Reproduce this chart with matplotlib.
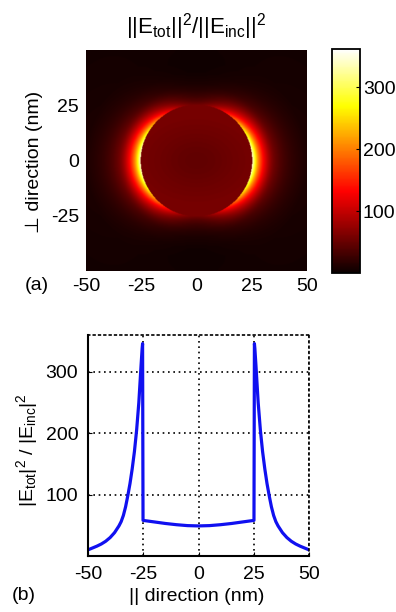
import numpy as np
import matplotlib
matplotlib.use("Agg")
import matplotlib.pyplot as plt

plt.rcParams['font.family'] = ['Liberation Sans', 'DejaVu Sans']
plt.rcParams['mathtext.fontset'] = 'custom'
plt.rcParams['mathtext.rm'] = 'Liberation Sans'
plt.rcParams['mathtext.it'] = 'Liberation Sans:italic'
plt.rcParams['axes.unicode_minus'] = False
plt.rcParams['font.size'] = 14

# (b) cut along the parallel direction
x_line = [-50, -48, -46, -44, -42, -40, -38, -36, -35, -34, -33, -32, -31, -30,
          -29, -28, -27, -26.5, -26, -25.5, -25.3,
          -25.1, -20, -15, -10, -5, 0, 5, 10, 15, 20, 25.1,
          25.3, 25.5, 26, 26.5, 27, 28, 29, 30, 31, 32, 33, 34, 35, 36,
          38, 40, 42, 44, 46, 48, 50]
y_line = [10, 13, 16, 19.5, 24, 30, 38, 49, 56, 66, 80, 98, 118, 142,
          170, 205, 250, 280, 310, 338, 346,
          58, 55.5, 53, 51, 49.5, 49, 49.5, 51, 53, 55.5, 58,
          346, 338, 310, 280, 250, 205, 170, 142, 118, 98, 80, 66, 56, 49,
          38, 30, 24, 19.5, 16, 13, 10]

# radial profiles used to build the (a) map
par_r = [25.3, 25.5, 26, 26.5, 27, 28, 29, 30, 31, 32, 33, 34, 35, 36,
         38, 40, 42, 44, 46, 48, 50, 71]
par_v = [346, 338, 310, 280, 250, 205, 170, 142, 118, 98, 80, 66, 56, 49,
         38, 30, 24, 19.5, 16, 13, 10, 5]
perp_r = [25.3, 27, 29, 32, 35, 40, 45, 50, 71]
perp_v = [55, 40, 28, 16, 9, 4, 3, 4, 5]
in_r = [0, 5, 10, 15, 20, 25.3]
in_v = [47, 48, 50, 53, 55.5, 58]
radius = 25.3

xticks = [-50, -25, 0, 25, 50]
yticks_a = [-25, 0, 25]
yticks_b = [100, 200, 300]
cticks = [100, 200, 300]

g = np.linspace(-50, 50, 401)
X, Y = np.meshgrid(g, g)
R = np.hypot(X, Y)
c2 = np.where(R > 0, X**2 / np.maximum(R, 1e-9)**2, 1.0)
outside = np.interp(R, par_r, par_v) * c2 + np.interp(R, perp_r, perp_v) * (1 - c2)
inside = np.interp(np.hypot(X, 1.35 * Y), in_r, in_v)
field = np.where(R > radius, outside, inside)

fig = plt.figure(figsize=(3.96, 6.12), dpi=100)

ax1 = fig.add_axes([86/396, 1-271/612, 221/396, 221/612])
im = ax1.imshow(field, extent=[-50, 50, -50, 50], origin='lower', cmap='hot',
                vmin=0, vmax=362, interpolation='bilinear', aspect='auto')
ax1.set_xticks(xticks)
ax1.set_yticks(yticks_a)
ax1.tick_params(direction='in', length=0, pad=5)
for s in ax1.spines.values():
    s.set_visible(False)
ax1.set_ylabel('⊥ direction (nm)')
ax1.yaxis.set_label_coords(-0.195, 0.493)
fig.text(0.495, 0.957, r'$||\mathrm{E}_{\mathrm{tot}}||^{2}/||\mathrm{E}_{\mathrm{inc}}||^{2}$',
         ha='center', va='center', fontsize=16)
fig.text(36.5/396, 1-285/612, '(a)', ha='center', va='center')

cax = fig.add_axes([332/396, 1-273/612, 28/396, 224/612])
cb = fig.colorbar(im, cax=cax, ticks=cticks)
cb.outline.set_linewidth(1.3)
cax.tick_params(direction='in', length=3, pad=2)

ax2 = fig.add_axes([88/396, 1-556/612, 221/396, 221/612])
ax2.plot(x_line, y_line, color='#1010f0', lw=2.3)
ax2.set_xlim(-50, 50)
ax2.set_ylim(0, 360)
ax2.set_xticks(xticks)
ax2.set_yticks(yticks_b)
ax2.grid(True, color='black', linestyle=(0, (1, 2.2)), lw=1.2)
ax2.tick_params(direction='in', length=3, pad=7)
ax2.spines['left'].set_linewidth(1.5)
ax2.spines['bottom'].set_linewidth(1.5)
for side in ['top', 'right']:
    ax2.spines[side].set_linestyle((0, (1, 2.2)))
    ax2.spines[side].set_linewidth(1.2)
ax2.set_xlabel('|| direction (nm)')
ax2.xaxis.set_label_coords(0.493, -0.145)
ax2.set_ylabel(r'$|\mathrm{E}_{\mathrm{tot}}|^{2}$ / $|\mathrm{E}_{\mathrm{inc}}|^{2}$')
ax2.yaxis.set_label_coords(-0.217, 0.48)
fig.text(24/396, 1-595/612, '(b)', ha='center', va='center')

fig.savefig('out.png', dpi=100)
